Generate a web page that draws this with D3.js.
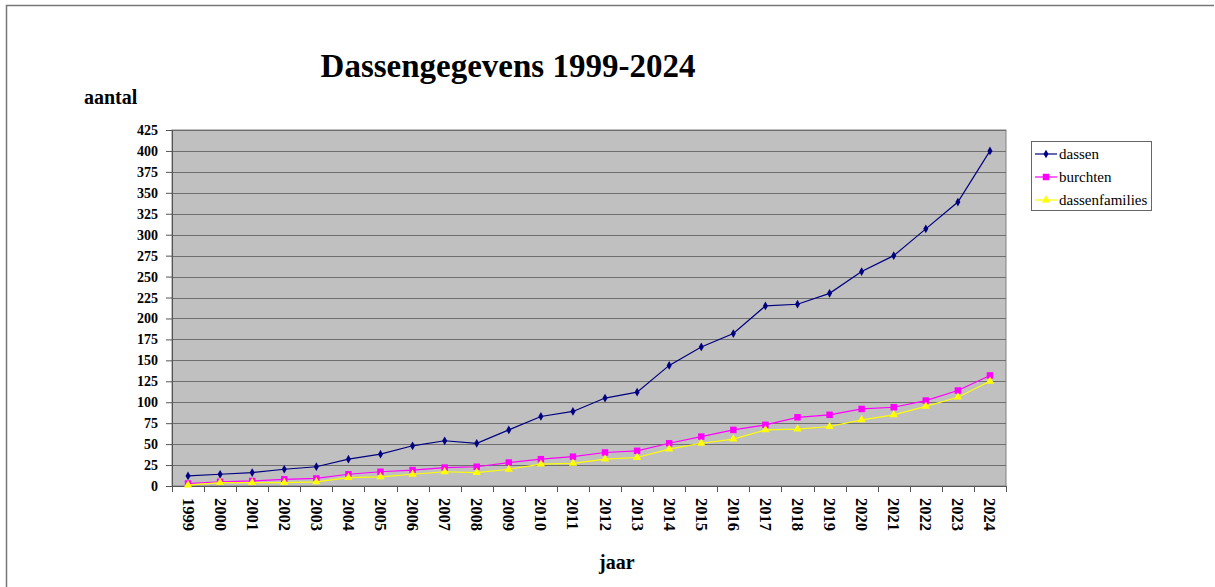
<!DOCTYPE html>
<html lang="nl">
  <head>
    <meta charset="UTF-8" />
    <title>Dassengegevens 1999-2024</title>
    <script src="https://d3js.org/d3.v7.min.js"></script>
    <style>
      html, body { margin: 0; padding: 0; background: #fff; }
      svg { display: block; }
      text { font-family: "Liberation Serif", "Times New Roman", serif; }
    </style>
  </head>
  <body>
    <svg id="chart" width="1215" height="587"></svg>
    <script>
      // data
      const years = ["1999","2000","2001","2002","2003","2004","2005","2006","2007","2008","2009","2010","2011",
                     "2012","2013","2014","2015","2016","2017","2018","2019","2020","2021","2022","2023","2024"];
      const dassen = [12, 14, 16, 20, 23, 32, 38, 48, 54, 51, 67, 83, 89, 105, 112, 144, 166, 182, 215, 217, 230, 256, 275, 307, 339, 400];
      const burchten = [3, 5, 6, 8, 9, 14, 17, 19, 22, 23, 28, 32, 35, 40, 42, 51, 59, 67, 73, 82, 85, 92, 94, 102, 114, 132];
      const dassenfamilies = [1, 4, 4, 4, 5, 10, 11, 14, 17, 16, 20, 26, 27, 32, 34, 44, 51, 56, 67, 68, 71, 79, 85, 95, 106, 125];
      const yTicks = d3.range(0, 426, 25);

      const serif = "Liberation Serif";
      const series = [
        { name: "dassen", values: dassen, color: "#000080", symbol: d3.symbolDiamond, size: 22 },
        { name: "burchten", values: burchten, color: "#ff00ff", symbol: d3.symbolSquare, size: 42 },
        { name: "dassenfamilies", values: dassenfamilies, color: "#ffff00", symbol: d3.symbolTriangle, size: 30 }
      ];

      const plot = { left: 172, right: 1006, top: 130, bottom: 486 };
      const svg = d3.select("#chart");

      // outer frame (top and left edges)
      svg.append("path")
        .attr("d", "M6.5,587 L6.5,5.5 L1214,5.5")
        .attr("fill", "none")
        .attr("stroke", "#777")
        .attr("stroke-width", 1.5);

      const xBand = d3.scaleBand().domain(years).range([plot.left, plot.right]);
      const y = d3.scaleLinear().domain([0, 425]).range([plot.bottom, plot.top]);
      const xc = (d) => xBand(d) + xBand.bandwidth() / 2;

      // plot background
      svg.append("rect")
        .attr("x", plot.left).attr("y", plot.top)
        .attr("width", plot.right - plot.left).attr("height", plot.bottom - plot.top)
        .attr("fill", "#c0c0c0")
        .attr("stroke", "#808080");

      // grid
      svg.append("g")
        .selectAll("line")
        .data(yTicks.filter((d) => d > 0))
        .join("line")
        .attr("x1", plot.left).attr("x2", plot.right)
        .attr("y1", (d) => Math.round(y(d)) + 0.5)
        .attr("y2", (d) => Math.round(y(d)) + 0.5)
        .attr("stroke", "#6e6e6e");

      // y axis
      const yAxis = d3.axisLeft(y).tickValues(yTicks).tickSize(6).tickPadding(8);
      const gy = svg.append("g")
        .attr("transform", `translate(${plot.left},0)`)
        .call(yAxis)
        .attr("font-family", serif)
        .attr("font-size", 14)
        .attr("font-weight", "bold");
      gy.select(".domain").attr("stroke", "#555");
      gy.selectAll(".tick line").attr("stroke", "#555");
      gy.selectAll(".tick text")
        .attr("fill", "#000")
        .style("font-family", serif)
        .style("font-size", "14px")
        .style("font-weight", "bold");

      // x axis: tick marks on category boundaries
      const gx = svg.append("g");
      gx.append("line")
        .attr("x1", plot.left).attr("x2", plot.right)
        .attr("y1", plot.bottom + 0.5).attr("y2", plot.bottom + 0.5)
        .attr("stroke", "#555");
      gx.selectAll(".xt")
        .data(years.concat(["end"]))
        .join("line")
        .attr("class", "xt")
        .attr("x1", (d) => Math.round(d === "end" ? plot.right : xBand(d)) + 0.5)
        .attr("x2", (d) => Math.round(d === "end" ? plot.right : xBand(d)) + 0.5)
        .attr("y1", plot.bottom).attr("y2", plot.bottom + 6)
        .attr("stroke", "#555");
      gx.selectAll(".xlab")
        .data(years)
        .join("text")
        .attr("class", "xlab")
        .attr("transform", (d) => `translate(${xc(d)},${plot.bottom + 12}) rotate(90)`)
        .attr("dominant-baseline", "central")
        .style("font-family", serif)
        .style("font-size", "16.5px")
        .style("font-weight", "bold")
        .text((d) => d);

      // lines and markers
      const line = d3.line().x((d, i) => xc(years[i])).y((d) => y(d));
      series.forEach((s) => {
        svg.append("path")
          .datum(s.values)
          .attr("d", line)
          .attr("fill", "none")
          .attr("stroke", s.color)
          .attr("stroke-width", 1.2);
        svg.append("g")
          .selectAll("path")
          .data(s.values)
          .join("path")
          .attr("d", d3.symbol(s.symbol, s.size))
          .attr("transform", (d, i) => `translate(${xc(years[i])},${y(d)})`)
          .attr("fill", s.color);
      });

      // titles
      svg.append("text")
        .attr("x", 508).attr("y", 77)
        .attr("text-anchor", "middle")
        .style("font-family", serif)
        .style("font-size", "33px").style("font-weight", "bold")
        .text("Dassengegevens 1999-2024");
      svg.append("text")
        .attr("x", 84).attr("y", 104)
        .style("font-family", serif)
        .style("font-size", "20px").style("font-weight", "bold")
        .text("aantal");
      svg.append("text")
        .attr("x", 599).attr("y", 569)
        .style("font-family", serif)
        .style("font-size", "20px").style("font-weight", "bold")
        .text("jaar");

      // legend
      const legend = svg.append("g").attr("transform", "translate(1031,141)");
      legend.append("rect")
        .attr("x", 0.5).attr("y", 0.5)
        .attr("width", 120).attr("height", 69)
        .attr("fill", "#fff")
        .attr("stroke", "#666");
      const row = legend.selectAll(".row")
        .data(series)
        .join("g")
        .attr("transform", (d, i) => `translate(0,${13 + i * 23})`);
      row.append("line")
        .attr("x1", 4).attr("x2", 26)
        .attr("stroke", (d) => d.color)
        .attr("stroke-width", 1.2);
      row.append("path")
        .attr("d", (d) => d3.symbol(d.symbol, d.size)())
        .attr("transform", "translate(15,0)")
        .attr("fill", (d) => d.color);
      row.append("text")
        .attr("x", 28).attr("y", 0)
        .attr("dominant-baseline", "central")
        .style("font-family", serif)
        .style("font-size", "15px")
        .text((d) => d.name);
    </script>
  </body>
</html>
